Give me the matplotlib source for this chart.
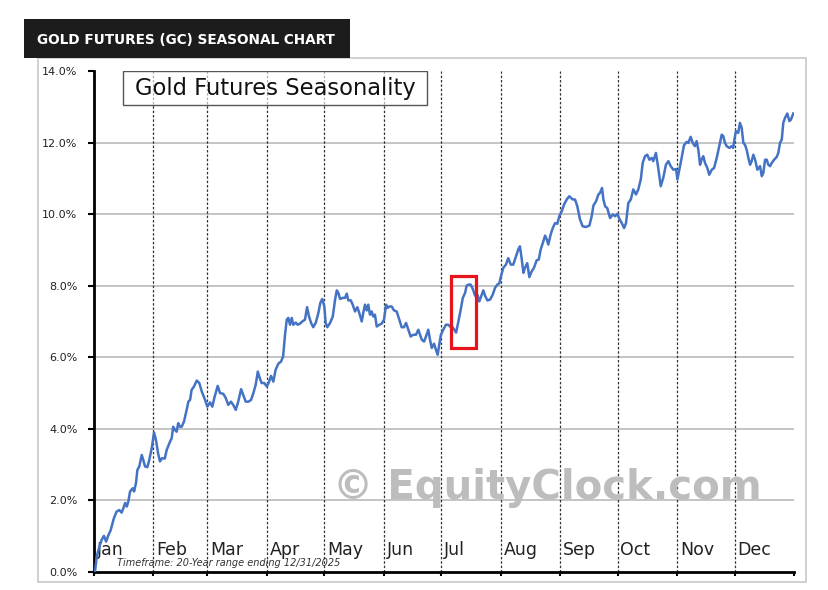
import matplotlib
matplotlib.use("Agg")
import matplotlib.pyplot as plt
from matplotlib.patches import Rectangle

# seasonal curve: day of year / average % gain
days = [0.5, 1.4, 2.8, 4.0, 5.2, 6.3, 7.5, 8.7, 10.4, 11.8, 13.2, 14.4, 15.3, 16.2, 17.1, 17.9,
        18.8, 20.2, 20.9, 21.9, 22.6, 23.6, 24.9, 25.7, 26.6, 27.8, 28.8, 30.1, 31.3, 32.3, 33.4,
        34.4, 35.5, 36.9, 37.9, 39.3, 40.5, 41.3, 42.2, 43.1, 43.9, 44.8, 45.7, 46.9, 48.3, 49.2,
        50.1, 50.9, 52.1, 53.6, 54.9, 56.2, 57.9, 59.1, 60.5, 61.7, 62.7, 64.5, 65.7, 67.4, 68.7,
        70.0, 71.4, 72.6, 73.9, 75.2, 76.7, 77.8, 79.1, 80.5, 81.9, 83.1, 84.3, 85.4, 86.4, 87.4,
        88.8, 90.1, 91.3, 92.3, 93.5, 94.7, 96.1, 97.5, 98.6, 99.6, 100.5, 101.3, 102.2, 103.1,
        103.9, 105.2, 106.2, 107.4, 108.6, 110.0, 111.1, 112.1, 113.2, 114.3, 115.6, 117.0, 118.0,
        119.0, 120.1, 120.8, 121.6, 123.1, 124.5, 125.7, 126.6, 127.4, 128.3, 129.7, 130.9, 131.8,
        132.6, 133.9, 134.9, 136.1, 137.3, 138.3, 139.6, 140.4, 141.3, 142.2, 143.0, 143.9, 144.8,
        145.6, 146.5, 147.4, 148.8, 150.0, 151.2, 152.3, 153.1, 154.0, 155.2, 156.4, 157.8, 159.2,
        160.4, 161.6, 162.7, 163.9, 165.1, 166.5, 167.9, 169.1, 170.0, 170.9, 172.1, 173.1, 174.3,
        175.2, 176.1, 177.3, 178.3, 179.2, 180.0, 180.9, 182.1, 183.5, 184.7, 185.6, 187.0, 188.8,
        190.0, 191.2, 192.3, 193.5, 194.3, 195.2, 196.4, 197.5, 198.7, 199.9, 200.9, 202.2, 203.0,
        203.9, 205.1, 206.5, 207.9, 209.1, 210.3, 211.3, 212.2, 213.4, 214.8, 216.0, 217.3, 218.6,
        220.0, 221.2, 222.1, 223.0, 223.9, 224.7, 225.9, 227.0, 228.2, 229.4, 230.8, 231.9, 232.9,
        234.0, 235.2, 236.1, 236.9, 238.1, 239.2, 240.4, 241.6, 242.6, 243.9, 245.1, 246.5, 247.8,
        249.6, 250.8, 252.0, 253.4, 254.8, 256.5, 258.3, 259.5, 260.4, 261.8, 263.0, 263.8, 264.9,
        265.6, 266.5, 267.6, 269.1, 270.5, 271.7, 272.9, 273.9, 275.2, 276.4, 277.4, 278.6, 279.9,
        281.2, 282.6, 283.8, 285.1, 286.1, 287.3, 288.5, 289.6, 290.8, 291.6, 293.0, 294.2, 295.5,
        296.8, 298.2, 299.5, 300.7, 302.1, 303.5, 304.2, 305.2, 306.4, 307.6, 309.0, 309.9, 311.1,
        312.2, 313.3, 314.2, 315.1, 316.0, 316.8, 317.7, 318.6, 319.8, 320.8, 322.1, 323.3, 324.7,
        326.0, 327.3, 328.1, 329.0, 329.9, 331.3, 332.5, 333.3, 333.9, 334.7, 335.9, 336.8, 337.7,
        338.6, 339.4, 340.3, 341.2, 342.1, 342.9, 343.8, 344.7, 345.9, 347.3, 348.2, 349.0, 349.9,
        350.8, 351.6, 352.5, 353.4, 354.6, 356.0, 356.8, 357.7, 358.6, 359.4, 360.3, 361.5, 362.6,
        363.4, 364.6]
pct = [0.00, 0.43, 0.71, 0.90, 1.01, 0.85, 1.03, 1.17, 1.51, 1.69, 1.73, 1.66, 1.78, 1.93, 1.83, 1.97,
       2.25, 2.34, 2.25, 2.49, 2.85, 2.95, 3.27, 3.13, 2.95, 2.93, 3.13, 3.46, 3.90, 3.69, 3.32,
       3.09, 3.18, 3.17, 3.41, 3.60, 3.74, 4.06, 3.97, 3.92, 4.16, 4.06, 4.06, 4.20, 4.53, 4.76,
       4.81, 5.09, 5.18, 5.35, 5.28, 5.04, 4.81, 4.62, 4.74, 4.62, 4.86, 5.20, 5.00, 4.98, 4.86,
       4.67, 4.76, 4.67, 4.53, 4.76, 5.11, 4.95, 4.76, 4.76, 4.81, 5.00, 5.23, 5.60, 5.42, 5.28,
       5.28, 5.18, 5.32, 5.48, 5.32, 5.65, 5.82, 5.88, 6.02, 6.63, 7.05, 7.10, 6.91, 7.10,
       6.91, 6.97, 6.91, 6.94, 7.00, 7.05, 7.40, 7.14, 6.96, 6.84, 6.96, 7.24, 7.52,
       7.63, 7.42, 6.96, 6.84, 6.96, 7.14, 7.61, 7.87, 7.80, 7.63, 7.66, 7.66, 7.78,
       7.59, 7.59, 7.47, 7.28, 7.40, 7.24, 7.00, 7.24, 7.47, 7.31, 7.47, 7.19, 7.28,
       7.14, 7.19, 6.86, 6.91, 6.94, 7.05, 7.47, 7.38, 7.42, 7.42, 7.31, 7.28, 7.05,
       6.84, 6.84, 6.96, 6.77, 6.58, 6.63, 6.63, 6.77, 6.63, 6.49, 6.44, 6.58, 6.77,
       6.49, 6.26, 6.38, 6.21, 6.07, 6.35, 6.63, 6.77, 6.91, 6.91, 6.86, 6.84, 6.69,
       7.00, 7.33, 7.66, 7.80, 8.00, 8.03, 8.03, 7.91, 7.72, 7.75, 7.56, 7.75, 7.87,
       7.72, 7.59, 7.61, 7.75, 7.94, 8.03, 8.06, 8.26, 8.50, 8.59, 8.77, 8.59, 8.59,
       8.82, 9.01, 9.10, 8.75, 8.36, 8.50, 8.63, 8.24, 8.40, 8.50, 8.71, 8.73, 9.01,
       9.19, 9.40, 9.29, 9.15, 9.43, 9.61, 9.75, 9.73, 9.94, 10.08, 10.27, 10.41, 10.50,
       10.41, 10.41, 10.22, 9.85, 9.66, 9.64, 9.68, 9.94, 10.24, 10.36, 10.55, 10.59, 10.73,
       10.41, 10.22, 10.17, 9.89, 9.99, 9.94, 10.01, 9.87, 9.75, 9.61, 9.75, 10.31, 10.41,
       10.69, 10.55, 10.69, 10.97, 11.43, 11.62, 11.66, 11.52, 11.57, 11.48, 11.71, 11.29, 10.78,
       11.01, 11.38, 11.48, 11.34, 11.24, 11.26, 10.97, 11.24, 11.57, 11.92, 12.02, 11.99, 12.16,
       11.99, 11.90, 12.04, 11.80, 11.38, 11.52, 11.62, 11.43, 11.29, 11.10, 11.24, 11.29, 11.57,
       11.90, 12.22, 12.18, 11.99, 11.90, 11.85, 11.90, 11.85, 12.08, 12.32, 12.27, 12.55, 12.41,
       11.99, 11.94, 11.80, 11.57, 11.38, 11.48, 11.66, 11.52, 11.24, 11.34, 11.06, 11.15, 11.52,
       11.52, 11.38, 11.34, 11.43, 11.52, 11.60, 11.71, 11.99, 12.08, 12.55, 12.69, 12.81, 12.60,
       12.64, 12.81]

months = ["Jan", "Feb", "Mar", "Apr", "May", "Jun", "Jul", "Aug", "Sep", "Oct", "Nov", "Dec"]
month_starts = [0, 31, 59, 90, 120, 151, 181, 212, 243, 273, 304, 334, 365]
y_ticks = [0, 2, 4, 6, 8, 10, 12, 14]

# highlighted window (early-mid July)
hl_days = [186.2, 199.2]
hl_pct = [6.27, 8.28]

fig = plt.figure(figsize=(8.29, 5.9), dpi=100)
fig.patch.set_facecolor("white")

# outer frame and dark header
fig.patches.append(Rectangle((0.0458, 0.0136), 0.9264, 0.888, transform=fig.transFigure,
                             facecolor="none", edgecolor="#c8c8c8", lw=1.2, zorder=-1))
fig.patches.append(Rectangle((0.029, 0.9017), 0.3932, 0.0661, transform=fig.transFigure,
                             facecolor="#1c1c1c", edgecolor="none", zorder=-1))
fig.text(0.0446, 0.933, "GOLD FUTURES (GC) SEASONAL CHART", color="white",
         fontsize=9.8, fontweight="bold", va="center", ha="left")

ax = fig.add_axes([0.1134, 0.0305, 0.8444, 0.8492])
ax.set_facecolor("none")
ax.set_xlim(0, 365)
ax.set_ylim(0, 14)

for y in y_ticks[1:-1]:
    ax.axhline(y, color="#b4b4b4", lw=1.1, zorder=1)
for m in month_starts[1:-1]:
    ax.axvline(m, color="#333333", lw=0.9, ls=(0, (2, 1.5)), zorder=1)

ax.plot(days, pct, color="#4472c4", lw=1.8, zorder=3)

ax.add_patch(Rectangle((hl_days[0], hl_pct[0]), hl_days[1] - hl_days[0], hl_pct[1] - hl_pct[0],
                       fill=False, edgecolor="#e8141c", lw=2.3, zorder=4))

for name, start in zip(months, month_starts[:-1]):
    ax.text(start + 1.5, 0.62, name, fontsize=12.5, color="#222222", ha="left", va="center", zorder=2)

ax.text(12, 0.25, "Timeframe: 20-Year range ending 12/31/2025", fontsize=7, style="italic",
        color="#333333", ha="left", va="center", zorder=2)

ax.text(0.648, 0.168, "\u00a9 EquityClock.com", transform=ax.transAxes, fontsize=29,
        fontweight="bold", color="#bdbdbd", ha="center", va="center", zorder=2)

# title box in the top-left of the plot area
ax.add_patch(Rectangle((0.041, 0.932), 0.435, 0.068, transform=ax.transAxes,
                       facecolor=(1, 1, 1, 0.6), edgecolor="#555555", lw=1, zorder=5))
ax.text(0.2586, 0.966, "Gold Futures Seasonality", transform=ax.transAxes, fontsize=16.3,
        color="#111111", ha="center", va="center", zorder=6)

ax.set_yticks(y_ticks)
ax.set_yticklabels([f"{v:.1f}%" for v in y_ticks], fontsize=8, color="#222222")
ax.set_xticks(month_starts)
ax.set_xticklabels([])
ax.tick_params(axis="y", length=4, width=1.5, direction="out", pad=8)
ax.tick_params(axis="x", length=3, width=1.5, direction="out")

for side in ["top", "right"]:
    ax.spines[side].set_visible(False)
ax.spines["left"].set_linewidth(2)
ax.spines["bottom"].set_linewidth(2)

plt.savefig("out.png", dpi=100)
